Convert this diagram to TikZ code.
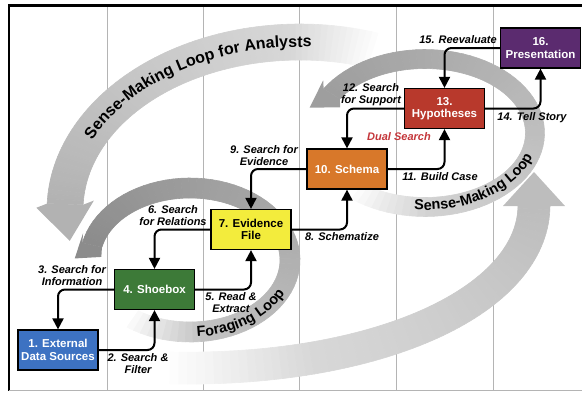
\documentclass[tikz,border=0pt]{standalone}
\usepackage{fontspec}
\setmainfont{Liberation Sans}
\usetikzlibrary{arrows.meta,decorations.text}

\definecolor{cblue}{HTML}{3D72C2}
\definecolor{cgreen}{HTML}{3D7A38}
\definecolor{cyellow}{HTML}{F3EC3C}
\definecolor{corange}{HTML}{D8782A}
\definecolor{cred}{HTML}{B8392C}
\definecolor{cpurple}{HTML}{5B2B6F}
\definecolor{cdual}{HTML}{C4363A}
\definecolor{gridc}{HTML}{B4B4B4}

% elliptical gray band: cx cy rx ry halfwidth th0(faded end) th1(arrow end)
\newcommand\ellband[7]{%
 \foreach \ii in {1,...,72}{%
  \pgfmathsetmacro\mfa{(\ii-1)/72}%
  \pgfmathsetmacro\mfb{\ii/72}%
  \pgfmathsetmacro\mta{#6+(#7-(#6))*\mfa}%
  \pgfmathsetmacro\mtb{#6+(#7-(#6))*\mfb}%
  \pgfmathsetmacro\mlv{\bandL+\bandS*(1-\mfb)+(1-\bandL-\bandS)*max(0,1-\mfb/\bandF)}%
  \definecolor{segc}{gray}{\mlv}%
  \filldraw[fill=segc,draw=segc,line width=0.6pt,line join=round]
   ({#1+(#3+#5)*cos(\mta)},{#2+(#4+#5)*sin(\mta)}) --
   ({#1+(#3+#5)*cos(\mtb)},{#2+(#4+#5)*sin(\mtb)}) --
   ({#1+(#3-#5)*cos(\mtb)},{#2+(#4-#5)*sin(\mtb)}) --
   ({#1+(#3-#5)*cos(\mta)},{#2+(#4-#5)*sin(\mta)}) -- cycle;
 }%
}
% arrow head at band end: cx cy rx ry th dir ahw alen gray ; uses \arrRot, \bandHW
\newcommand\ellarrow[9]{%
 \pgfmathsetmacro\mcs{cos(#5)}%
 \pgfmathsetmacro\msn{sin(#5)}%
 \pgfmathsetmacro\mbx{#1+#3*(\mcs)}%
 \pgfmathsetmacro\mby{#2+#4*(\msn)}%
 \pgfmathsetmacro\mtx{0-(#6)*#3*(\msn)}%
 \pgfmathsetmacro\mty{(#6)*#4*(\mcs)}%
 \pgfmathsetmacro\mtl{veclen(\mtx,\mty)}%
 \pgfmathsetmacro\mux{(\mtx)/\mtl}%
 \pgfmathsetmacro\muy{(\mty)/\mtl}%
 \pgfmathsetmacro\mvx{(\mux)*cos(\arrRot)-(\muy)*sin(\arrRot)}%
 \pgfmathsetmacro\mvy{(\mux)*sin(\arrRot)+(\muy)*cos(\arrRot)}%
 \pgfmathsetmacro\msg{sign(0-(\mvy)*(\mcs)+(\mvx)*(\msn))}%
 \pgfmathsetmacro\mpx{0-(\mvy)*(\msg)}%
 \pgfmathsetmacro\mpy{(\mvx)*(\msg)}%
 \definecolor{segc}{gray}{#9}%
 \fill[segc] ({#1+(#3+\bandHW)*(\mcs)},{#2+(#4+\bandHW)*(\msn)}) --
   ({\mbx+(\mpx)*#7},{\mby+(\mpy)*#7}) --
   ({\mbx+(\mvx)*#8},{\mby+(\mvy)*#8}) --
   ({\mbx-(\mpx)*#7},{\mby-(\mpy)*#7}) --
   ({#1+(#3-\bandHW)*(\mcs)},{#2+(#4-\bandHW)*(\msn)}) -- cycle;
}
% point on lower bezier arc
\newcommand\bzpt[1]{%
 \pgfmathsetmacro\bzT{#1}%
 \pgfmathsetmacro\bzU{1-\bzT}%
 \pgfmathsetmacro\bzX{\bzU*\bzU*\bzU*534+3*\bzU*\bzU*\bzT*534+3*\bzU*\bzT*\bzT*380+\bzT*\bzT*\bzT*170}%
 \pgfmathsetmacro\bzY{\bzU*\bzU*\bzU*205+3*\bzU*\bzU*\bzT*300+3*\bzU*\bzT*\bzT*372+\bzT*\bzT*\bzT*368}%
 \pgfmathsetmacro\bzDx{6*\bzU*\bzT*(380-534)+3*\bzT*\bzT*(170-380)}%
 \pgfmathsetmacro\bzDy{3*\bzU*\bzU*(300-205)+6*\bzU*\bzT*(372-300)+3*\bzT*\bzT*(368-372)}%
 \pgfmathsetmacro\bzDl{veclen(\bzDx,\bzDy)}%
 \pgfmathsetmacro\bzNx{0-(\bzDy)/\bzDl}%
 \pgfmathsetmacro\bzNy{(\bzDx)/\bzDl}%
}

\begin{document}
\begin{tikzpicture}[x=1pt,y=-1pt,
 box/.style={draw=black,line width=1.2pt,minimum width=80pt,minimum height=40pt,inner sep=1pt,align=center,text=white,font=\fontsize{11.5}{12.5}\selectfont\bfseries},
 conn/.style={line width=2pt,rounded corners=7pt,-{Triangle[length=11pt,width=11pt]}},
 lbl/.style={align=center,font=\fontsize{11}{12}\selectfont\bfseries\itshape,inner sep=0pt},
 gridline/.style={gridc,line width=1pt},
 looptext/.style={decorate,decoration={text along path,text align=center,text={|\fontsize{#1}{#1}\selectfont\bfseries|\looptxt}}}]
\useasboundingbox (0,0) rectangle (582,392);

% grid
\foreach \gx in {107,203,299,396,493} \draw[gridline] (\gx,7) -- (\gx,390);

% analysts loop (top-left)
\def\bandL{0.70}\def\bandS{0.18}\def\bandF{0.2}\def\bandHW{18}\def\arrRot{-10}
\ellband{300}{210}{235}{168}{18}{288}{182}
\ellarrow{300}{210}{235}{168}{182}{-1}{29}{37}{0.70}

% lower big arc
\def\bandL{0.74}\def\bandS{0.14}\def\bandF{0.25}
\foreach \ii in {1,...,70}{%
  \bzpt{1-(\ii-1)/70}%
  \let\qAx\bzX \let\qAy\bzY \let\qANx\bzNx \let\qANy\bzNy
  \bzpt{1-\ii/70}%
  \pgfmathsetmacro\mfb{\ii/70}%
  \pgfmathsetmacro\mlv{\bandL+\bandS*(1-\mfb)+(1-\bandL-\bandS)*max(0,1-\mfb/\bandF)}%
  \definecolor{segc}{gray}{\mlv}%
  \filldraw[fill=segc,draw=segc,line width=0.6pt,line join=round]
   ({\qAx+16*(\qANx)},{\qAy+16*(\qANy)}) -- ({\bzX+16*(\bzNx)},{\bzY+16*(\bzNy)}) --
   ({\bzX-16*(\bzNx)},{\bzY-16*(\bzNy)}) -- ({\qAx-16*(\qANx)},{\qAy-16*(\qANy)}) -- cycle;
}
\definecolor{segc}{gray}{0.74}
\fill[segc] (503,206) -- (534,172) -- (565,206) -- (550,206) -- (550,207) -- (518,207) -- (518,206) -- cycle;

% foraging loop
\def\bandL{0.55}\def\bandS{0.25}\def\bandF{0.15}\def\bandHW{10}\def\arrRot{36}
\ellband{190}{260}{100}{72}{10}{125}{-168}
\ellarrow{190}{260}{100}{72}{-168}{-1}{15}{22}{0.55}

% sense-making loop
\def\bandL{0.62}\def\bandS{0.24}\def\bandF{0.15}\def\bandHW{9.5}\def\arrRot{15}
\ellband{425}{133}{110}{74}{9.5}{128}{-148}
\ellarrow{425}{133}{110}{74}{-148}{-1}{16}{26}{0.62}

% loop titles
\def\looptxt{Sense-Making Loop for Analysts}
\path[looptext=16] plot[domain=0:1,samples=60,variable=\u] ({300+230*cos(200+77*\u)},{210+163*sin(200+77*\u)});
\def\looptxt{Foraging Loop}
\path[looptext=14.5] plot[domain=0:1,samples=40,variable=\u] ({190+105*cos(92-74*\u)},{260+77*sin(92-74*\u)});
\def\looptxt{Sense-Making Loop}
\path[looptext=14.5] plot[domain=0:1,samples=40,variable=\u] ({425+113*cos(101-91*\u)},{133+77*sin(101-91*\u)});

% frame
\draw[line width=2.6pt] (582,5.5) -- (9,5.5) -- (9,391);
\draw[gridline] (9,390) -- (582,390);

% boxes
\node[box,fill=cblue] (n1) at (58,350) {1. External\\Data Sources};
\node[box,fill=cgreen] (n4) at (154.5,289.5) {4. Shoebox};
\node[box,fill=cyellow,text=black] (n7) at (251,229.5) {7. Evidence\\File};
\node[box,fill=corange] (n10) at (347,169) {10. Schema};
\node[box,fill=cred] (n13) at (444.5,108.5) {13.\\Hypotheses};
\node[box,fill=cpurple] (n16) at (540.5,48) {16.\\Presentation};

% connectors
\draw[conn] (n1.east) -| (n4.south);
\draw[conn] (n4.west) -| (n1.north);
\draw[conn] (n4.east) -| (n7.south);
\draw[conn] (n7.west) -| (n4.north);
\draw[conn] (n7.east) -| (n10.south);
\draw[conn] (n10.west) -| (n7.north);
\draw[conn] (n10.east) -| (n13.south);
\draw[conn] (n13.west) -| (n10.north);
\draw[conn] (n13.east) -| (n16.south);
\draw[conn] (n16.west) -| (n13.north);

% labels
\node[lbl] (l2) at (138,364) {2. Search \&\\Filter};
\node[lbl] (l3) at (72,276) {3. Search for\\Information};
\node[lbl] (l5) at (231,303) {5. Read \&\\Extract};
\node[lbl] (l6) at (173,215.5) {6. Search\\for Relations};
\node[lbl] (l8) at (342,237) {8. Schematize};
\node[lbl] (l9) at (264,156) {9. Search for\\Evidence};
\node[lbl] (l11) at (440,177) {11. Build Case};
\node[lbl] (l12) at (371,95) {12. Search\\for Support};
\node[lbl,text=cdual] (ld) at (399,137) {Dual Search};
\node[lbl] (l14) at (532,118) {14. Tell Story};
\node[lbl] (l15) at (458,40) {15. Reevaluate};
\end{tikzpicture}
\end{document}
